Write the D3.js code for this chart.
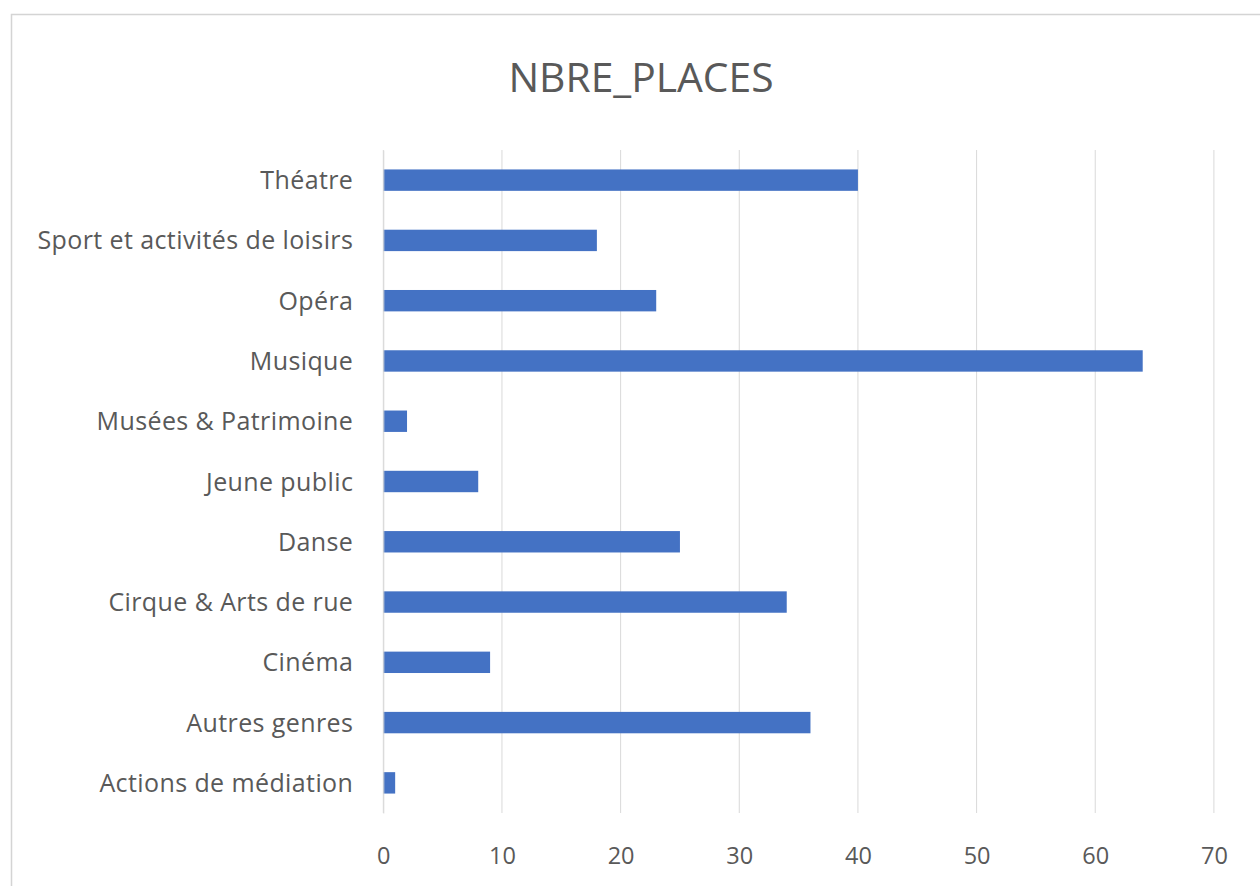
<!DOCTYPE html>
<html>
<head>
<meta charset="utf-8">
<script src="https://cdn.jsdelivr.net/npm/d3@7/dist/d3.min.js"></script>
<style>
html,body{margin:0;padding:0;background:#fff;}
svg{display:block;}
</style>
</head>
<body>
<svg id="chart" width="1260" height="886"></svg>
<script>
const categories = ["Théatre","Sport et activités de loisirs","Opéra","Musique","Musées & Patrimoine","Jeune public","Danse","Cirque & Arts de rue","Cinéma","Autres genres","Actions de médiation"];
const values = [40,18,23,64,2,8,25,34,9,36,1];
const xTicks = [0,10,20,30,40,50,60,70];
const title = "NBRE_PLACES";

(function(){
const svg = d3.select("#chart");
const W = 1260, H = 886;
const mLeft = 383.3, mRight = 1213.9, mTop = 150, mBottom = 813;
const font = "'Open Sans', sans-serif";
const textColor = "#595959";

svg.append("rect").attr("x",0).attr("y",0).attr("width",W).attr("height",H).attr("fill","#fff");
svg.append("rect").attr("x",11.5).attr("y",14.5).attr("width",1270).attr("height",900)
  .attr("fill","none").attr("stroke","#d4d4d4").attr("stroke-width",1.5);

const x = d3.scaleLinear().domain([0,70]).range([mLeft,mRight]);
const y = d3.scaleBand().domain(categories).range([mTop,mBottom]).paddingInner(0.645).paddingOuter(0.3225);

// gridlines
svg.append("g").selectAll("line").data(xTicks).join("line")
  .attr("x1",d=>x(d)).attr("x2",d=>x(d)).attr("y1",mTop).attr("y2",mBottom)
  .attr("stroke","#d9d9d9").attr("stroke-width",1);

// bars
svg.append("g").selectAll("rect").data(values).join("rect")
  .attr("x",x(0)).attr("y",(d,i)=>y(categories[i]))
  .attr("width",d=>x(d)-x(0)).attr("height",y.bandwidth())
  .attr("fill","#4472C4");

// category axis
const yAxis = d3.axisLeft(y).tickSize(0).tickPadding(30);
const gy = svg.append("g").attr("transform",`translate(${mLeft},0)`).call(yAxis);
gy.select(".domain").attr("stroke","#d9d9d9");
gy.selectAll("text").attr("font-family",font).attr("font-size",25).attr("letter-spacing","0.4px")
  .attr("fill",textColor).attr("dy","0.36em");

// value axis
const xAxis = d3.axisBottom(x).tickValues(xTicks).tickSize(0).tickPadding(34);
const gx = svg.append("g").attr("transform",`translate(0,${mBottom})`).call(xAxis);
gx.select(".domain").remove();
gx.selectAll("text").attr("font-family",font).attr("font-size",23.5).attr("fill",textColor);

// title
svg.append("text").attr("x",641).attr("y",92).attr("text-anchor","middle")
  .attr("font-family",font).attr("font-size",40.8).attr("fill",textColor).text(title);
})();
</script>
</body>
</html>
